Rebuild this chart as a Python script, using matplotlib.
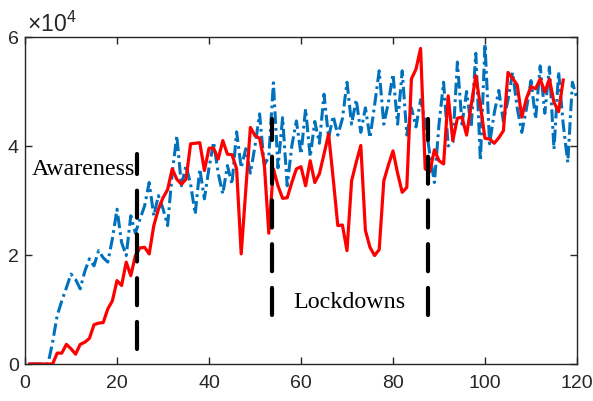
import matplotlib
matplotlib.use("Agg")
import matplotlib.pyplot as plt
from matplotlib.ticker import FuncFormatter

plt.rcParams['lines.scale_dashes'] = False
plt.rcParams['mathtext.fontset'] = 'custom'
plt.rcParams['mathtext.rm'] = 'Liberation Sans'
plt.rcParams['mathtext.it'] = 'Liberation Sans:italic'
plt.rcParams['mathtext.bf'] = 'Liberation Sans:bold'

# Red series (daily)
red_days = list(range(1, 118))
red_vals = [0, 0, 0, 0, 0, 0, 2000, 2000, 3600, 2800, 1800, 3600, 4000, 4700, 7200, 7500, 7600,
            10100, 11600, 15300, 14400, 18700, 16200, 19900, 21300, 21400, 20200, 25400, 28400,
            30500, 32000, 35800, 33900, 33000, 33900, 40400, 40500, 40600, 35500, 39600, 39600,
            37600, 41000, 38500, 38400, 35800, 20200, 32000, 43400, 41900, 41400, 37000, 24000,
            35800, 32700, 30400, 30500, 33300, 35800, 36200, 32700, 37300, 33300, 34900, 38500,
            42200, 34000, 25400, 25500, 20800, 33600, 37000, 40100, 24500, 21400, 19900, 21000,
            33600, 36500, 39100, 35000, 31500, 32400, 52300, 54100, 57900, 35800, 35300, 39300,
            37300, 36700, 49200, 41000, 45100, 45300, 42000, 47500, 52900, 47400, 41400, 41300,
            40500, 41500, 42800, 53500, 52400, 51200, 45300, 48700, 50900, 50500, 52300, 49900,
            52300, 48000, 46300, 52100]

# Blue series (daily)
blue_days = list(range(1, 121))
blue_vals = [0, 0, 0, 0, 0, 4000, 8900, 11600, 14000, 16500, 15500, 13800, 17000, 19300, 18000,
             20800, 19500, 18700, 23000, 28400, 22300, 19900, 27200, 24000, 26600, 29000, 33300,
             27200, 30900, 28500, 25400, 35000, 41900, 32700, 36400, 33000, 27500, 35800, 30300,
             36000, 40700, 35000, 31200, 36400, 33000, 42600, 36000, 39500, 35000, 40000, 45900,
             36500, 38000, 51600, 36000, 45200, 32700, 40000, 44600, 38500, 46800, 38000, 44500,
             40500, 49500, 41500, 45500, 42000, 45000, 51700, 44000, 48500, 42500, 47000, 41500,
             47500, 53800, 44000, 48000, 53200, 44000, 53800, 42000, 47000, 43500, 48500, 44500,
             38500, 33300, 44000, 51700, 40000, 40700, 55400, 44000, 50000, 43500, 57000, 37300,
             58700, 40400, 46000, 50200, 44500, 48500, 53500, 47000, 42500, 46800, 52000, 45000,
             54700, 46000, 54500, 39400, 53600, 44000, 37000, 51700, 48600]

# Event markers
event_x = [24.4, 53.6, 87.7]
event_lo = [2800, 8900, 8900]
event_hi = [38500, 45000, 45000]
labels = ["Awareness", "Lockdowns"]

fig = plt.figure(figsize=(5.93, 4.02), dpi=100)
ax = fig.add_axes([25/593, 37/402, 552/593, 327/402])

ax.plot(blue_days, blue_vals, linestyle='-.', color='#0072BD', linewidth=2.2,
        dashes=(9, 3, 2, 3))
ax.plot(red_days, red_vals, color='#FF0000', linewidth=2.3)
for x, lo, hi in zip(event_x, event_lo, event_hi):
    ax.plot([x, x], [lo, hi], color='black', linewidth=3, dashes=(19.5, 12),
            solid_capstyle='round', dash_capstyle='round')

ax.text(1.5, 34900, labels[0], family='Liberation Serif', fontsize=17.3, color='black')
ax.text(58.3, 10460, labels[1], family='Liberation Serif', fontsize=17.3, color='black')

ax.set_xlim(0, 120)
ax.set_ylim(0, 60000)
ax.set_xticks([0, 20, 40, 60, 80, 100, 120])
ax.set_yticks([0, 20000, 40000, 60000])
ax.yaxis.set_major_formatter(FuncFormatter(lambda v, p: f"{v/1e4:g}"))
ax.tick_params(direction='in', top=True, right=True, length=5, width=1,
               colors='#262626', labelsize=14)
for lab in ax.get_xticklabels() + ax.get_yticklabels():
    lab.set_family('Liberation Sans')
for s in ax.spines.values():
    s.set_color('#262626')
    s.set_linewidth(1)
ax.tick_params(axis='y', pad=4.5)
ax.tick_params(axis='x', pad=7)

fig.text(27/593, 1 - 32/402, r"$\times\mathrm{10}^{4}$", fontsize=16.5, color='#262626')

fig.savefig("out.png", dpi=100)
